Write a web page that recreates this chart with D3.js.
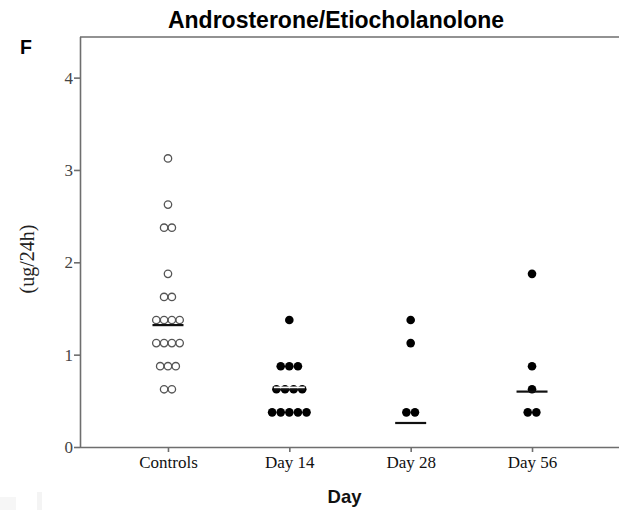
<!DOCTYPE html>
<html>
<head>
<meta charset="utf-8">
<script src="https://cdn.jsdelivr.net/npm/d3@7"></script>
<style>
  html, body { margin: 0; padding: 0; background: #fff; }
  svg { display: block; }
</style>
</head>
<body>
<svg id="chart" width="619" height="510"></svg>
<script>
// Group labels along the x axis
const categories = ["Controls", "Day 14", "Day 28", "Day 56"];

// Individual measurements per group (ug/24h)
const controls = [3.125, 2.625, 2.375, 2.375, 1.875, 1.625, 1.625,
                  1.375, 1.375, 1.375, 1.375, 1.125, 1.125, 1.125, 1.125,
                  0.875, 0.875, 0.875, 0.625, 0.625];
const day14 = [1.375, 0.875, 0.875, 0.875, 0.625, 0.625, 0.625, 0.625,
               0.375, 0.375, 0.375, 0.375, 0.375];
const day28 = [1.375, 1.125, 0.375, 0.375];
const day56 = [1.875, 0.875, 0.625, 0.375, 0.375];

// Median of each group
const medians = [1.32, 0.63, 0.26, 0.60];

// Y axis ticks
const yTicks = [0, 1, 2, 3, 4];

const series = [controls, day14, day28, day56];

const svg = d3.select("#chart");
const W = 619;
const plotLeft = 80, plotTop = 37, plotBottom = 447;

const y = d3.scaleLinear().domain([0, 4.44]).range([plotBottom, plotTop]);
const x = d3.scalePoint().domain(categories).range([plotLeft, 620]).padding(0.725);

const axisColor = "#6e6e6e";

// faint scan marks in the lower-left corner
svg.append("rect").attr("x", 0).attr("y", 497).attr("width", 16).attr("height", 13).attr("fill", "#f6f6f6");
svg.append("rect").attr("x", 37).attr("y", 492).attr("width", 5).attr("height", 18).attr("fill", "#f4f4f4");

// Title and panel letter
svg.append("text")
  .attr("x", 336).attr("y", 28)
  .attr("text-anchor", "middle")
  .attr("font-family", "Liberation Sans, Arial, sans-serif")
  .attr("font-weight", "bold").attr("font-size", 23)
  .attr("fill", "#000")
  .text("Androsterone/Etiocholanolone");

svg.append("text")
  .attr("x", 20).attr("y", 54)
  .attr("font-family", "Liberation Sans, Arial, sans-serif")
  .attr("font-weight", "bold").attr("font-size", 19.5)
  .attr("fill", "#000")
  .text("F");

// Frame: top edge
svg.append("line")
  .attr("x1", plotLeft).attr("x2", W).attr("y1", plotTop).attr("y2", plotTop)
  .attr("stroke", axisColor).attr("stroke-width", 1.6);

// Y axis
const yAxis = svg.append("g")
  .attr("transform", `translate(${plotLeft},0)`)
  .call(d3.axisLeft(y).tickValues(yTicks).tickFormat(d3.format("d")).tickSize(6).tickPadding(1));
yAxis.select(".domain").attr("d", `M0.5,${plotTop}V${plotBottom}`).attr("stroke", axisColor).attr("stroke-width", 1.6);
yAxis.selectAll(".tick line").attr("stroke", axisColor).attr("stroke-width", 1.6);
yAxis.selectAll(".tick text")
  .attr("font-family", "Liberation Serif, Times New Roman, serif")
  .attr("font-size", 17).attr("fill", "#444");

// X axis
const xAxis = svg.append("g")
  .attr("transform", `translate(0,${plotBottom})`)
  .call(d3.axisBottom(x).tickSize(5).tickPadding(4));
xAxis.select(".domain").attr("d", `M${plotLeft},0.5H${W}`).attr("stroke", axisColor).attr("stroke-width", 1.6);
xAxis.selectAll(".tick line").attr("stroke", axisColor).attr("stroke-width", 1.6);
xAxis.selectAll(".tick text")
  .attr("font-family", "Liberation Serif, Times New Roman, serif")
  .attr("font-size", 17).attr("fill", "#111");

// Axis titles
svg.append("text")
  .attr("transform", "translate(34,259) rotate(-90)")
  .attr("text-anchor", "middle")
  .attr("font-family", "Liberation Serif, Times New Roman, serif")
  .attr("font-size", 20).attr("fill", "#222")
  .text("(ug/24h)");

svg.append("text")
  .attr("x", 344.5).attr("y", 503)
  .attr("text-anchor", "middle")
  .attr("font-family", "Liberation Sans, Arial, sans-serif")
  .attr("font-weight", "bold").attr("font-size", 18.5)
  .attr("fill", "#111")
  .text("Day");

// Dot plot: equal values are spread side by side around the group centre
series.forEach((vals, gi) => {
  const open = gi === 0;
  const step = open ? 7.8 : 8.6;
  const counts = d3.rollup(vals, v => v.length, v => v);
  const seen = new Map();
  const pts = vals.map(v => {
    const n = counts.get(v);
    const k = seen.get(v) || 0;
    seen.set(v, k + 1);
    return { v, dx: (k - (n - 1) / 2) * step };
  });
  const g = svg.append("g");
  g.selectAll("circle").data(pts).join("circle")
    .attr("cx", d => x(categories[gi]) + d.dx)
    .attr("cy", d => y(d.v))
    .attr("r", open ? 3.7 : 4.3)
    .attr("fill", open ? "#fff" : "#000")
    .attr("stroke", open ? "#555" : "none")
    .attr("stroke-width", open ? 1.3 : 0);

  // median bar
  const cx = x(categories[gi]);
  const my = y(medians[gi]);
  if (gi === 1) {
    g.append("line")
      .attr("x1", cx - 15.5).attr("x2", cx + 15.5)
      .attr("y1", my - 1.4).attr("y2", my - 1.4)
      .attr("stroke", "#fff").attr("stroke-width", 1.8);
    g.append("line")
      .attr("x1", cx - 15.5).attr("x2", cx + 15.5)
      .attr("y1", my + 0.8).attr("y2", my + 0.8)
      .attr("stroke", "#111").attr("stroke-width", 1.6);
  } else {
    g.append("line")
      .attr("x1", cx - 15.5).attr("x2", cx + 15.5)
      .attr("y1", my).attr("y2", my)
      .attr("stroke", "#111").attr("stroke-width", 2.2);
  }
});
</script>
</body>
</html>
